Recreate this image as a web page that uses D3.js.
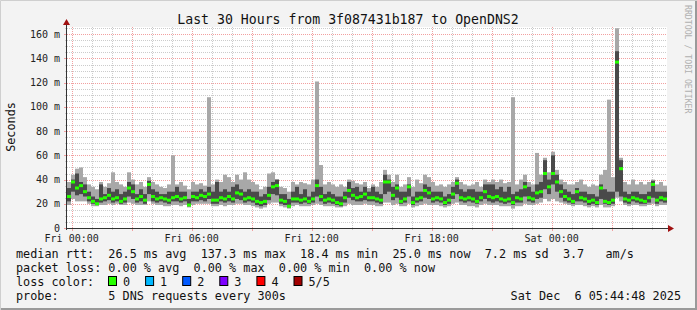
<!DOCTYPE html>
<html>
<head>
<meta charset="utf-8">
<script src="https://cdn.jsdelivr.net/npm/d3@7"></script>
<style>
body{margin:0;background:#f3f3f3}
text{font-family:"DejaVu Sans Mono",monospace}
</style>
</head>
<body>
<div id="chart"></div>
<script>
// ping values per 12 min step (ms), 5 pings sorted: min, p2, median, p4, max
var minV = [19,24,22,22,22,20,18,18,19,19,20,19,20,19,19,21,20,19,19,19,22,20,19,19,18,18,19,
    19,18,19,17,19,20,20,20,20,18,18,19,18,19,19,20,20,19,19,18,17,16,17,20,
    21,21,18,17,16,18,19,18,18,18,19,20,19,18,18,18,17,17,18,20,19,19,19,20,19,
    19,18,18,21,21,19,20,18,18,20,17,18,19,20,19,19,19,18,17,18,20,21,19,19,18,
    18,17,19,20,19,19,19,18,18,18,16,18,18,20,19,19,20,21,24,22,24,22,21,20,19,
    18,19,19,18,17,18,17,19,17,17,18,25,22,19,18,19,19,18,18,19,20,18,19,19]
var p2V = [22,30,27,28,26,22,20,19,21,22,23,21,22,20,21,26,24,21,22,20,28,22,21,22,21,20,22,
    22,21,22,18,22,22,23,22,24,20,20,22,21,22,21,24,23,21,22,21,19,18,19,23,
    28,27,20,19,17,21,21,20,21,20,21,26,22,20,21,20,19,18,21,25,23,22,22,23,22,
    22,21,20,28,30,23,25,20,21,26,19,21,22,25,24,21,22,21,19,20,24,28,22,21,22,
    21,20,22,24,22,21,22,21,20,21,19,21,21,26,22,21,24,25,32,28,36,30,25,22,21,
    20,22,22,21,19,20,19,24,20,19,20,30,26,21,20,22,21,20,20,21,25,20,22,21]
var medV = [26,38,33,35,30,25,22,20,24,25,27,24,25,22,24,33,30,24,26,23,36,26,24,25,24,23,25,
    26,24,25,19,26,25,27,26,28,23,23,25,24,26,24,29,28,24,25,24,22,21,22,27,
    34,35,23,22,18,24,24,23,24,22,24,35,26,23,24,23,21,20,25,31,27,25,26,28,25,
    25,24,23,38,38,27,33,22,24,34,21,24,25,31,29,24,25,24,21,23,28,37,25,24,25,
    24,22,25,30,26,25,26,24,23,24,21,25,24,34,25,24,29,30,45,34,45,38,30,26,24,
    22,30,25,24,22,23,21,33,22,21,23,137,49,24,23,25,24,23,22,25,36,23,25,24]
var p4V = [33,40,45,38,36,30,26,24,36,28,33,30,32,28,30,38,36,28,32,28,39,32,30,28,28,30,30,
    34,30,30,24,30,30,32,30,34,30,38,30,32,30,34,36,32,30,32,30,30,26,28,34,
    38,40,28,28,24,30,34,28,32,26,30,40,34,28,30,28,26,26,30,38,33,34,30,34,30,
    34,30,28,44,40,34,36,30,30,36,26,30,30,36,34,30,30,30,26,28,34,40,32,30,32,
    32,30,30,36,36,36,32,34,30,34,28,30,32,38,34,30,36,38,56,40,60,44,36,32,30,
    28,33,30,30,28,28,26,36,32,30,30,146,56,30,28,30,30,28,28,30,39,30,30,30]
var maxV = [38,44,49,50,42,36,34,32,38,34,37,46,38,36,34,46,40,36,38,34,42,38,36,34,33,36,60,
    36,38,35,32,38,36,37,35,108,36,40,38,44,42,38,44,40,46,40,38,36,32,34,45,
    46,40,34,33,30,38,36,38,37,36,40,121,52,36,38,36,34,36,34,40,39,37,36,38,33,
    36,34,38,48,44,38,44,34,36,42,34,40,37,44,42,38,35,36,34,36,38,42,38,36,35,
    36,38,34,40,38,40,38,40,37,38,108,36,40,44,38,36,62,44,58,46,63,48,40,38,36,
    36,38,40,36,34,36,35,44,48,106,42,165,58,38,36,40,36,38,36,38,40,36,38,35]

var yTicks = [0,20,40,60,80,100,120,140,160]
var lossColors = ['#26ff00','#00b8ff','#0059ff','#7e00ff','#ff0000','#a10000']
var lossLabels = ['0','1','2','3','4','5/5']
var legendLines = [
    'median rtt:  26.5 ms avg  137.3 ms max  18.4 ms min  25.0 ms now  7.2 ms sd  3.7   am/s',
    'packet loss: 0.00 % avg  0.00 % max  0.00 % min  0.00 % now',
    'loss color:',
    'probe:       5 DNS requests every 300s'
]

var W = 697, H = 310
var pL = 67, pR = 667, pT = 27, pB = 228
var start = new Date(2025, 11, 4, 23, 46)
var end = new Date(2025, 11, 6, 5, 46)
var stepMs = 12 * 60 * 1000

var x = d3.scaleTime().domain([start, end]).range([pL, pR])
var y = d3.scaleLinear().domain([0, 166]).range([pB, pT])

var svg = d3.select('#chart')
    .append('svg')
    .attr('width', W)
    .attr('height', H)

// frame
svg.append('rect').attr('width', W).attr('height', H).attr('fill', '#f3f3f3')
svg.append('path').attr('d', 'M0.5,' + H + 'V0.5H' + W).attr('fill', 'none').attr('stroke', '#cfcfcf')
svg.append('path').attr('d', 'M1,' + (H - 1) + 'H' + (W - 1) + 'V1').attr('fill', 'none').attr('stroke', '#9a9a9a').attr('stroke-width', 2)

// plot area
svg.append('rect')
    .attr('x', pL).attr('y', pT)
    .attr('width', pR - pL).attr('height', pB - pT)
    .attr('fill', '#ffffff')

// grid
var hours = d3.timeHour.range(d3.timeHour.ceil(start), end)
svg.selectAll('.vgrid')
    .data(hours)
    .enter()
    .append('line')
    .attr('x1', function(d){ return Math.round(x(d)) + 0.5 })
    .attr('x2', function(d){ return Math.round(x(d)) + 0.5 })
    .attr('y1', pT)
    .attr('y2', pB)
    .attr('stroke', function(d){ return d.getHours() % 3 == 0 ? '#f2a0a0' : '#cccccc' })
    .attr('stroke-dasharray', '1,1')

var minorY = d3.range(5, 166, 5)
svg.selectAll('.hgrid')
    .data(minorY)
    .enter()
    .append('line')
    .attr('x1', pL)
    .attr('x2', pR)
    .attr('y1', function(d){ return Math.round(y(d)) + 0.5 })
    .attr('y2', function(d){ return Math.round(y(d)) + 0.5 })
    .attr('stroke', function(d){ return d % 20 == 0 ? '#f2a0a0' : '#cccccc' })
    .attr('stroke-dasharray', '1,1')

// smoke
var steps = d3.range(medV.length)
function sx(i){ return x(new Date(start.getTime() + i * stepMs)) }
function sw(i){ return sx(i + 1) - sx(i) }

svg.selectAll('.outer')
    .data(steps)
    .enter()
    .append('rect')
    .attr('x', sx)
    .attr('width', sw)
    .attr('y', function(i){ return y(maxV[i]) })
    .attr('height', function(i){ return y(minV[i]) - y(maxV[i]) })
    .attr('fill', '#a8a8a8')

svg.selectAll('.inner')
    .data(steps)
    .enter()
    .append('rect')
    .attr('x', sx)
    .attr('width', sw)
    .attr('y', function(i){ return y(p4V[i]) })
    .attr('height', function(i){ return y(p2V[i]) - y(p4V[i]) })
    .attr('fill', '#4a4a4a')

// median, coloured by loss (all 0 here)
svg.selectAll('.median')
    .data(steps)
    .enter()
    .append('rect')
    .attr('x', sx)
    .attr('width', sw)
    .attr('y', function(i){ return y(medV[i]) - 1.5 })
    .attr('height', 3)
    .attr('fill', lossColors[0])

// y axis labels + ticks
svg.selectAll('.ylab')
    .data(yTicks)
    .enter()
    .append('text')
    .attr('x', 60)
    .attr('y', function(d){ return y(d) + 3.5 })
    .attr('text-anchor', 'end')
    .attr('font-size', 10)
    .attr('fill', '#222')
    .text(function(d){ return d == 0 ? '0' : d + ' m' })

svg.selectAll('.ytick')
    .data(minorY.concat([0]))
    .enter()
    .append('line')
    .attr('x1', function(d){ return d % 20 == 0 ? pL - 3 : pL - 2 })
    .attr('x2', pL)
    .attr('y1', function(d){ return Math.round(y(d)) + 0.5 })
    .attr('y2', function(d){ return Math.round(y(d)) + 0.5 })
    .attr('stroke', function(d){ return d % 20 == 0 ? '#f2a0a0' : '#cccccc' })

// x axis labels + ticks
var fmt = d3.timeFormat('%a %H:%M')
var xLabels = hours.filter(function(d){ return d.getHours() % 6 == 0 })
svg.selectAll('.xlab')
    .data(xLabels)
    .enter()
    .append('text')
    .attr('x', function(d){ return x(d) })
    .attr('y', 242)
    .attr('text-anchor', 'middle')
    .attr('font-size', 10)
    .attr('fill', '#222')
    .text(fmt)

svg.selectAll('.xtick')
    .data(hours)
    .enter()
    .append('line')
    .attr('x1', function(d){ return Math.round(x(d)) + 0.5 })
    .attr('x2', function(d){ return Math.round(x(d)) + 0.5 })
    .attr('y1', pB)
    .attr('y2', function(d){ return d.getHours() % 3 == 0 ? pB + 3 : pB + 2 })
    .attr('stroke', function(d){ return d.getHours() % 3 == 0 ? '#f2a0a0' : '#cccccc' })

// axis lines with arrows
svg.append('line').attr('x1', pL - 0.5).attr('x2', pR + 2).attr('y1', pB + 0.5).attr('y2', pB + 0.5).attr('stroke', '#333')
svg.append('line').attr('x1', pL - 0.5).attr('x2', pL - 0.5).attr('y1', pB + 2).attr('y2', pT - 2).attr('stroke', '#333')
svg.append('path').attr('d', 'M' + (pR + 1) + ',' + (pB - 3) + 'L' + (pR + 7) + ',' + (pB + 0.5) + 'L' + (pR + 1) + ',' + (pB + 4) + 'Z').attr('fill', '#a01010')
svg.append('path').attr('d', 'M' + (pL - 4) + ',' + (pT - 2) + 'L' + (pL - 0.5) + ',' + (pT - 8) + 'L' + (pL + 3) + ',' + (pT - 2) + 'Z').attr('fill', '#a01010')

// titles
svg.append('text')
    .attr('x', 348)
    .attr('y', 24)
    .attr('text-anchor', 'middle')
    .attr('font-size', 13.2)
    .attr('fill', '#111')
    .text('Last 30 Hours from 3f087431b187 to OpenDNS2')

svg.append('text')
    .attr('transform', 'translate(15,127) rotate(-90)')
    .attr('text-anchor', 'middle')
    .attr('font-size', 11.8)
    .attr('fill', '#111')
    .text('Seconds')

svg.append('text')
    .attr('transform', 'translate(685,5) rotate(90)')
    .attr('font-size', 8.2)
    .attr('fill', '#b0b0b0')
    .text('RRDTOOL / TOBI OETIKER')

// legend
svg.selectAll('.leg')
    .data(legendLines)
    .enter()
    .append('text')
    .attr('x', 16)
    .attr('y', function(d, i){ return 258 + i * 14 })
    .attr('font-size', 11.8)
    .attr('fill', '#111')
    .style('white-space', 'pre')
    .text(function(d){ return d })

svg.selectAll('.lossbox')
    .data(lossColors)
    .enter()
    .append('rect')
    .attr('x', function(d, i){ return 108.5 + i * 37.1 })
    .attr('y', 276.5)
    .attr('width', 8)
    .attr('height', 9)
    .attr('fill', function(d){ return d })
    .attr('stroke', '#000')

svg.selectAll('.losslab')
    .data(lossLabels)
    .enter()
    .append('text')
    .attr('x', function(d, i){ return 123 + i * 37.1 })
    .attr('y', 286)
    .attr('font-size', 11.8)
    .attr('fill', '#111')
    .text(function(d){ return d })

svg.append('text')
    .attr('x', 681)
    .attr('y', 300)
    .attr('text-anchor', 'end')
    .attr('font-size', 11.8)
    .attr('fill', '#111')
    .style('white-space', 'pre')
    .text('Sat Dec  6 05:44:48 2025')
</script>
</body>
</html>
